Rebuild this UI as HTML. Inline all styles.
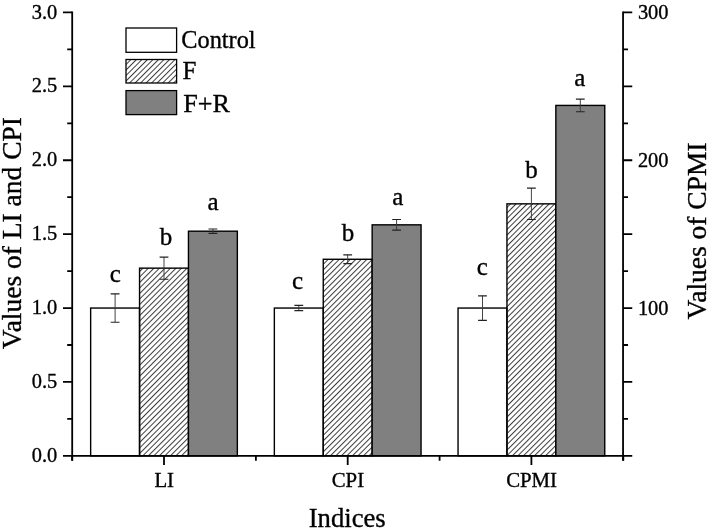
<!DOCTYPE html>
<html><head><meta charset="utf-8"><style>
html,body{margin:0;padding:0;background:#fff;}
svg{display:block;will-change:transform;}
text{font-family:"Liberation Serif",serif;fill:#000;stroke:#000;stroke-width:0.35px;}
</style></head><body>
<svg width="707" height="529" viewBox="0 0 707 529">
<defs><pattern id="h" patternUnits="userSpaceOnUse" width="3.9" height="10" patternTransform="rotate(45) translate(1.6 0)"><rect x="0" y="0" width="1.0" height="10" fill="#3c3c3c"/></pattern></defs>
<rect x="90.65" y="308.05" width="48.90" height="147.80" fill="#fff" stroke="#000" stroke-width="1.4"/>
<path d="M115.10 293.86V322.24" stroke="#3a3a3a" stroke-width="0.95" fill="none"/>
<path d="M110.70 293.86H119.50M110.70 322.24H119.50" stroke="#222" stroke-width="1.2" fill="none"/>
<rect x="139.55" y="268.14" width="48.90" height="187.71" fill="url(#h)" stroke="#000" stroke-width="1.4"/>
<path d="M164.00 257.06V279.23" stroke="#3a3a3a" stroke-width="0.95" fill="none"/>
<path d="M159.60 257.06H168.40M159.60 279.23H168.40" stroke="#222" stroke-width="1.2" fill="none"/>
<rect x="188.45" y="231.19" width="48.90" height="224.66" fill="#808080" stroke="#000" stroke-width="1.4"/>
<path d="M212.90 228.98V233.41" stroke="#3a3a3a" stroke-width="0.95" fill="none"/>
<path d="M208.50 228.98H217.30M208.50 233.41H217.30" stroke="#222" stroke-width="1.2" fill="none"/>
<rect x="274.35" y="308.05" width="48.90" height="147.80" fill="#fff" stroke="#000" stroke-width="1.4"/>
<path d="M298.80 305.39V310.71" stroke="#3a3a3a" stroke-width="0.95" fill="none"/>
<path d="M294.40 305.39H303.20M294.40 310.71H303.20" stroke="#222" stroke-width="1.2" fill="none"/>
<rect x="323.25" y="259.28" width="48.90" height="196.57" fill="url(#h)" stroke="#000" stroke-width="1.4"/>
<path d="M347.70 254.84V263.71" stroke="#3a3a3a" stroke-width="0.95" fill="none"/>
<path d="M343.30 254.84H352.10M343.30 263.71H352.10" stroke="#222" stroke-width="1.2" fill="none"/>
<rect x="372.15" y="224.84" width="48.90" height="231.01" fill="#808080" stroke="#000" stroke-width="1.4"/>
<path d="M396.60 219.52V230.16" stroke="#3a3a3a" stroke-width="0.95" fill="none"/>
<path d="M392.20 219.52H401.00M392.20 230.16H401.00" stroke="#222" stroke-width="1.2" fill="none"/>
<rect x="458.05" y="308.05" width="48.90" height="147.80" fill="#fff" stroke="#000" stroke-width="1.4"/>
<path d="M482.50 295.78V320.32" stroke="#3a3a3a" stroke-width="0.95" fill="none"/>
<path d="M478.10 295.78H486.90M478.10 320.32H486.90" stroke="#222" stroke-width="1.2" fill="none"/>
<rect x="506.95" y="203.85" width="48.90" height="252.00" fill="url(#h)" stroke="#000" stroke-width="1.4"/>
<path d="M531.40 188.18V219.52" stroke="#3a3a3a" stroke-width="0.95" fill="none"/>
<path d="M527.00 188.18H535.80M527.00 219.52H535.80" stroke="#222" stroke-width="1.2" fill="none"/>
<rect x="555.85" y="105.42" width="48.90" height="350.43" fill="#808080" stroke="#000" stroke-width="1.4"/>
<path d="M580.30 99.06V111.77" stroke="#3a3a3a" stroke-width="0.95" fill="none"/>
<path d="M575.90 99.06H584.70M575.90 111.77H584.70" stroke="#222" stroke-width="1.2" fill="none"/>
<path d="M72.2 11.55V460.85M623.05 11.55V460.85M71.30 455.85H623.95" stroke="#000" stroke-width="1.8" fill="none"/>
<path d="M63.00 455.85H72.2M623.05 455.85H632.25M67.20 418.90H72.2M623.05 418.90H628.05M63.00 381.95H72.2M623.05 381.95H632.25M67.20 345.00H72.2M623.05 345.00H628.05M63.00 308.05H72.2M623.05 308.05H632.25M67.20 271.10H72.2M623.05 271.10H628.05M63.00 234.15H72.2M623.05 234.15H632.25M67.20 197.20H72.2M623.05 197.20H628.05M63.00 160.25H72.2M623.05 160.25H632.25M67.20 123.30H72.2M623.05 123.30H628.05M63.00 86.35H72.2M623.05 86.35H632.25M67.20 49.40H72.2M623.05 49.40H628.05M63.00 12.45H72.2M623.05 12.45H632.25M164.00 455.85V465.05M347.70 455.85V465.05M531.40 455.85V465.05M72.20 455.85V460.85M255.90 455.85V460.85M439.60 455.85V460.85M623.30 455.85V460.85" stroke="#000" stroke-width="1.8" fill="none"/>
<text transform="translate(57.30 461.95)" text-anchor="end" font-size="20.4">0.0</text>
<text transform="translate(57.30 388.05)" text-anchor="end" font-size="20.4">0.5</text>
<text transform="translate(57.30 314.15)" text-anchor="end" font-size="20.4">1.0</text>
<text transform="translate(57.30 240.25)" text-anchor="end" font-size="20.4">1.5</text>
<text transform="translate(57.30 166.35)" text-anchor="end" font-size="20.4">2.0</text>
<text transform="translate(57.30 92.45)" text-anchor="end" font-size="20.4">2.5</text>
<text transform="translate(57.30 18.55)" text-anchor="end" font-size="20.4">3.0</text>
<text transform="translate(637.90 314.55)" font-size="20.4">100</text>
<text transform="translate(637.90 166.75)" font-size="20.4">200</text>
<text transform="translate(637.90 18.95)" font-size="20.4">300</text>
<text transform="translate(164.20 486.50) scale(1.02 1.0)" text-anchor="middle" font-size="20.4">LI</text>
<text transform="translate(347.90 486.50) scale(1.02 1.0)" text-anchor="middle" font-size="20.4">CPI</text>
<text transform="translate(531.60 486.50) scale(1.02 1.0)" text-anchor="middle" font-size="20.4">CPMI</text>
<text transform="translate(347.20 527.00)" text-anchor="middle" font-size="26.7">Indices</text>
<text transform="translate(20.80 233.10) rotate(-90) scale(1.0 1.03)" text-anchor="middle" font-size="27.5">Values of LI and CPI</text>
<text transform="translate(705.80 231.00) rotate(-90)" text-anchor="middle" font-size="27.5">Values of CPMI</text>
<text transform="translate(115.40 281.70)" text-anchor="middle" font-size="25">c</text>
<text transform="translate(166.10 244.50)" text-anchor="middle" font-size="25">b</text>
<text transform="translate(213.00 209.80)" text-anchor="middle" font-size="25">a</text>
<text transform="translate(297.60 288.60)" text-anchor="middle" font-size="25">c</text>
<text transform="translate(348.00 241.00)" text-anchor="middle" font-size="25">b</text>
<text transform="translate(397.70 205.00)" text-anchor="middle" font-size="25">a</text>
<text transform="translate(482.20 275.40)" text-anchor="middle" font-size="25">c</text>
<text transform="translate(531.40 177.50)" text-anchor="middle" font-size="25">b</text>
<text transform="translate(579.90 86.00)" text-anchor="middle" font-size="25">a</text>
<rect x="126" y="28.0" width="50.6" height="24.30" fill="#fff" stroke="#000" stroke-width="1.3"/>
<rect x="126" y="59.5" width="50.6" height="23.50" fill="url(#h)" stroke="#000" stroke-width="1.3"/>
<rect x="126" y="90.6" width="50.6" height="24.00" fill="#808080" stroke="#000" stroke-width="1.3"/>
<text transform="translate(181.30 47.60)" font-size="24.3">Control</text>
<text transform="translate(182.60 78.80)" font-size="25">F</text>
<text transform="translate(183.20 111.90) scale(1.045 1.0)" font-size="25">F+R</text>
</svg>
</body></html>
